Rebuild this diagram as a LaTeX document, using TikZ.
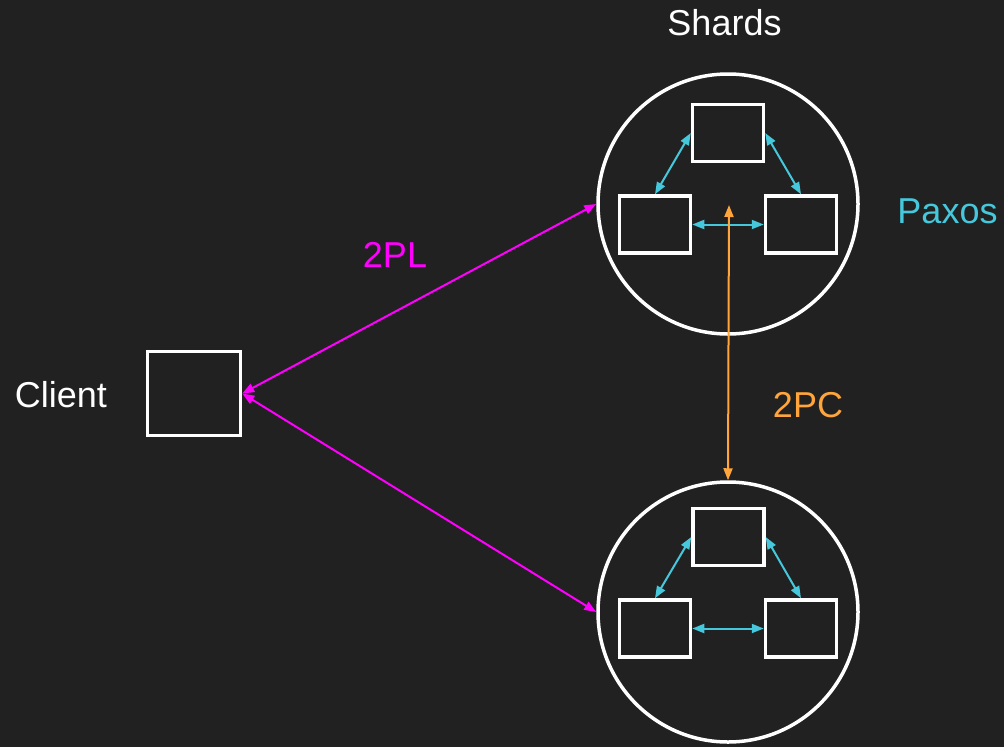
\documentclass[tikz,border=0pt]{standalone}
\usepackage{fontspec}
\setmainfont{Liberation Sans}
\usetikzlibrary{arrows.meta}
\definecolor{bg}{HTML}{212121}
\definecolor{mag}{HTML}{FF00FF}
\definecolor{cy}{HTML}{46C8DC}
\definecolor{orng}{HTML}{FFA53C}
\begin{document}
\begin{tikzpicture}[x=1pt,y=-1pt,
  shardbox/.style={draw=white,line width=3.5pt,rectangle,minimum width=71pt,minimum height=57pt,inner sep=0pt},
  shardcircle/.style={draw=white,line width=3.5pt,circle,minimum size=260pt,inner sep=0pt},
  clientbox/.style={draw=white,line width=3.5pt,rectangle,minimum width=93pt,minimum height=84pt,inner sep=0pt},
  lbl/.style={font=\fontsize{36}{40}\selectfont,anchor=base,inner sep=0pt},
  paxarrow/.style={draw=cy,line width=2pt,{Triangle[length=12pt,width=9pt]}-{Triangle[length=12pt,width=9pt]}},
  plarrow/.style={draw=mag,line width=2pt,{Triangle[length=12pt,width=9pt]}-{Triangle[length=12pt,width=9pt]}},
  pcarrow/.style={draw=orng,line width=2pt,{Triangle[length=12pt,width=9pt]}-{Triangle[length=12pt,width=9pt]}}
]
\fill[bg] (0,0) rectangle (1004,747);
\useasboundingbox (0,0) rectangle (1004,747);

% shards
\node[shardcircle] (topc) at (728,204) {};
\node[shardcircle] (botc) at (728,612) {};

\node[shardbox] (t1) at (728,133) {};
\node[shardbox] (t2) at (655,224.5) {};
\node[shardbox] (t3) at (801,224.5) {};

\node[shardbox] (b1) at (728.5,537) {};
\node[shardbox] (b2) at (655,628.5) {};
\node[shardbox] (b3) at (801,628.5) {};

\node[clientbox] (client) at (194,393.5) {};

% paxos arrows
\draw[paxarrow] (t1.west) -- (t2.north);
\draw[paxarrow] (t1.east) -- (t3.north);
\draw[paxarrow] (t2.east) -- (t3.west);
\draw[paxarrow] (b1.west) -- (b2.north);
\draw[paxarrow] (b1.east) -- (b3.north);
\draw[paxarrow] (b2.east) -- (b3.west);

% 2PL arrows
\draw[plarrow] (client.east) -- (topc.west);
\draw[plarrow] (client.east) -- (botc.west);

% 2PC arrow
\coordinate (pctop) at (729,205);
\draw[pcarrow] (botc.north) -- (pctop);

% labels
\node[lbl,text=white] (shards) at (724.5,35) {Shards};
\node[lbl,text=white] (clientlbl) at (61,407) {Client};
\node[lbl,text=mag] (pl) at (395,267) {2PL};
\node[lbl,text=orng] (pc) at (808,417) {2PC};
\node[lbl,text=cy] (paxos) at (947.5,223) {Paxos};
\end{tikzpicture}
\end{document}
